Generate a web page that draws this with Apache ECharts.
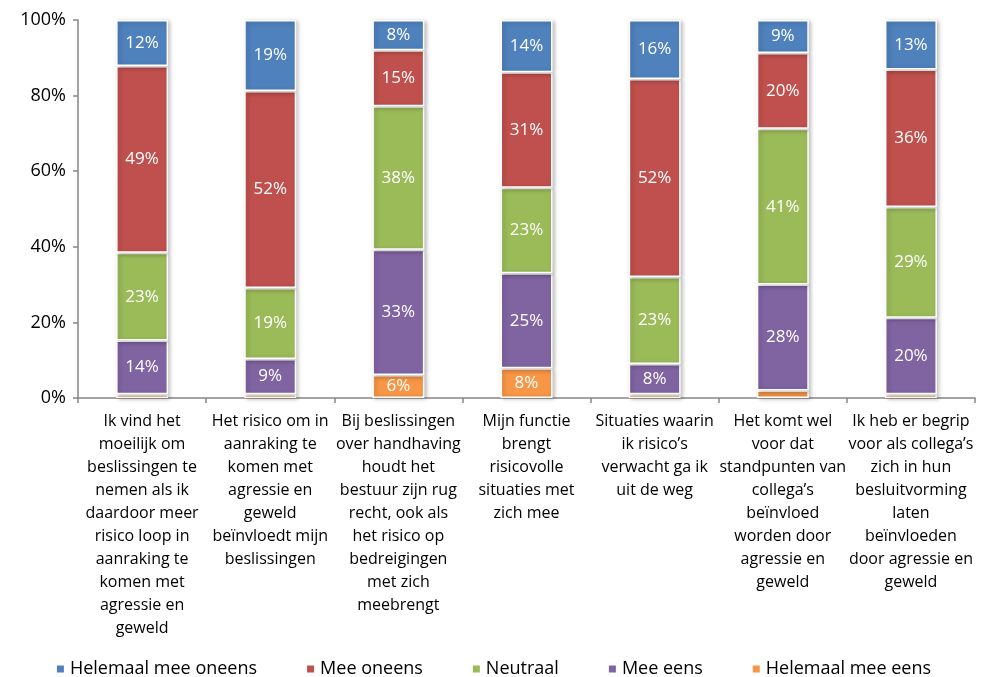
<!DOCTYPE html>
<html>
<head>
<meta charset="utf-8">
<script src="https://cdn.jsdelivr.net/npm/echarts@6/dist/echarts.min.js"></script>
<style>
  html, body { margin: 0; padding: 0; background: #fff; }
  #chart { width: 986px; height: 677px; }
</style>
</head>
<body>
<div id="chart"></div>
<script>
// categorieen (met regeleinden zoals in het origineel)
const categories = [
  "Ik vind het\nmoeilijk om\nbeslissingen te\nnemen als ik\ndaardoor meer\nrisico loop in\naanraking te\nkomen met\nagressie en\ngeweld",
  "Het risico om in\naanraking te\nkomen met\nagressie en\ngeweld\nbeïnvloedt mijn\nbeslissingen",
  "Bij beslissingen\nover handhaving\nhoudt het\nbestuur zijn rug\nrecht, ook als\nhet risico op\nbedreigingen\nmet zich\nmeebrengt",
  "Mijn functie\nbrengt\nrisicovolle\nsituaties met\nzich mee",
  "Situaties waarin\nik risico’s\nverwacht ga ik\nuit de weg",
  "Het komt wel\nvoor dat\nstandpunten van\ncollega’s\nbeïnvloed\nworden door\nagressie en\ngeweld",
  "Ik heb er begrip\nvoor als collega’s\nzich in hun\nbesluitvorming\nlaten\nbeïnvloeden\ndoor agressie en\ngeweld"
];

// percentages per antwoordcategorie
const helemaalMeeEens   = [1.0, 1.0, 6.1, 7.9, 1.0, 2.0, 1.0];
const meeEens           = [14.2, 9.3, 33.1, 25.1, 8.0, 28.0, 20.2];
const neutraal          = [23.2, 18.8, 38.0, 22.6, 23.0, 41.2, 29.3];
const meeOneens         = [49.4, 52.1, 14.8, 30.6, 52.4, 20.1, 36.4];
const helemaalMeeOneens = [12.2, 18.8, 8.0, 13.8, 15.6, 8.7, 13.1];

const yTicks = [0, 20, 40, 60, 80, 100];

const font = "'Open Sans', 'Noto Sans', sans-serif";

function makeSeries(name, data, color) {
  return {
    name: name,
    type: "bar",
    stack: "totaal",
    barWidth: 52,
    data: data,
    itemStyle: {
      color: color,
      borderColor: "#fff",
      borderWidth: 1.5,
      shadowBlur: 4,
      shadowOffsetX: 2,
      shadowOffsetY: 1,
      shadowColor: "rgba(0,0,0,0.25)"
    },
    label: {
      show: true,
      position: "inside",
      color: "#fff",
      fontFamily: font,
      fontSize: 17,
      formatter: function (p) {
        return p.value >= 4 ? Math.round(p.value) + "%" : "";
      }
    }
  };
}

const chart = echarts.init(document.getElementById("chart"));
chart.setOption({
  animation: false,
  grid: { left: 78, right: 11, top: 20, bottom: 279 },
  legend: {
    top: 655,
    left: "center",
    itemWidth: 9,
    itemHeight: 9,
    itemGap: 48,
    icon: "rect",
    textStyle: { fontFamily: font, fontSize: 18, color: "#000" },
    data: ["Helemaal mee oneens", "Mee oneens", "Neutraal", "Mee eens", "Helemaal mee eens"]
  },
  xAxis: {
    type: "category",
    data: categories,
    axisLine: { lineStyle: { color: "#868686", width: 1.5 } },
    axisTick: { show: true, length: 5, lineStyle: { color: "#868686", width: 1.5 } },
    axisLabel: {
      interval: 0,
      margin: 12,
      fontFamily: font,
      fontSize: 16,
      lineHeight: 23,
      color: "#000",
      align: "center"
    }
  },
  yAxis: {
    type: "value",
    min: 0,
    max: 100,
    interval: 20,
    axisLine: { show: true, lineStyle: { color: "#868686", width: 1.5 } },
    axisTick: { show: true, length: 5, lineStyle: { color: "#868686", width: 1.5 } },
    splitLine: { show: false },
    axisLabel: {
      fontFamily: font,
      fontSize: 18,
      color: "#000",
      margin: 12,
      formatter: function (v) { return yTicks.indexOf(v) >= 0 ? v + "%" : ""; }
    }
  },
  series: [
    makeSeries("Helemaal mee eens", helemaalMeeEens, "#F79646"),
    makeSeries("Mee eens", meeEens, "#8064A2"),
    makeSeries("Neutraal", neutraal, "#9BBB59"),
    makeSeries("Mee oneens", meeOneens, "#C0504D"),
    makeSeries("Helemaal mee oneens", helemaalMeeOneens, "#4F81BD")
  ]
});
</script>
</body>
</html>
